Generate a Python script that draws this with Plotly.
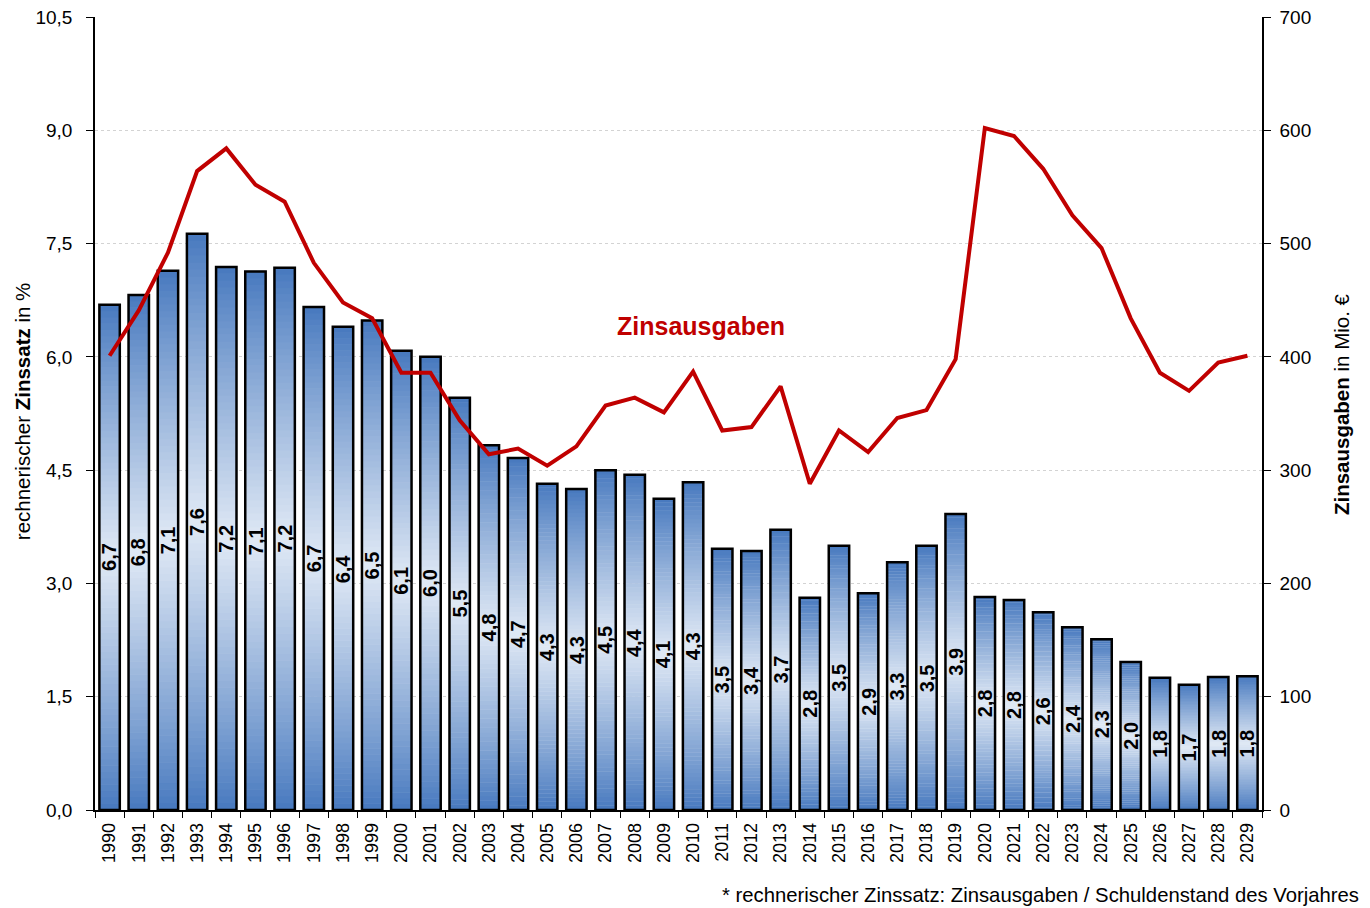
import plotly.graph_objects as go

years = [str(y) for y in range(1990, 2030)]
zinssatz = [6.69, 6.82, 7.14, 7.63, 7.19, 7.13, 7.18, 6.66, 6.40, 6.48,
            6.08, 6.00, 5.46, 4.83, 4.66, 4.32, 4.25, 4.50, 4.44, 4.12,
            4.34, 3.46, 3.43, 3.71, 2.81, 3.50, 2.87, 3.28, 3.50, 3.92,
            2.82, 2.78, 2.62, 2.42, 2.26, 1.96, 1.75, 1.66, 1.76, 1.77]
zins_labels = ["6,7", "6,8", "7,1", "7,6", "7,2", "7,1", "7,2", "6,7", "6,4", "6,5",
               "6,1", "6,0", "5,5", "4,8", "4,7", "4,3", "4,3", "4,5", "4,4", "4,1",
               "4,3", "3,5", "3,4", "3,7", "2,8", "3,5", "2,9", "3,3", "3,5", "3,9",
               "2,8", "2,8", "2,6", "2,4", "2,3", "2,0", "1,8", "1,7", "1,8", "1,8"]
zinsausgaben = [401, 441, 492, 564, 584, 552, 537, 483, 448, 434,
                386, 386, 344, 314, 319, 304, 321, 357, 364, 351,
                387, 335, 338, 374, 288, 335, 316, 346, 353, 398,
                602, 595, 566, 525, 496, 434, 386, 370, 395, 401]

FONT = "Liberation Sans, Arial, sans-serif"
BAR_W = 0.7
N = 80
blue = (70, 120, 190)
light = (224, 233, 245)

def grad(t):
    # t: 0 bottom .. 1 top ; lightest in the middle
    f = 1 - abs(t - 0.5) * 2
    f = max(0.0, min(1.0, f)) ** 0.9
    c = [round(b + (l - b) * f) for b, l in zip(blue, light)]
    return f"rgb({c[0]},{c[1]},{c[2]})"

fig = go.Figure()
for k in range(N):
    fig.add_trace(go.Bar(
        x=years,
        y=[v / N * 1.1 for v in zinssatz],
        base=[v * k / N for v in zinssatz],
        width=BAR_W,
        marker=dict(color=grad((k + 0.5) / N), line=dict(width=0)),
        hoverinfo="skip", showlegend=False,
    ))

fig.add_trace(go.Bar(
    x=years, y=zinssatz, base=0, width=BAR_W,
    marker=dict(color="rgba(0,0,0,0)", line=dict(color="black", width=2.5)),
    showlegend=False, name="Zinssatz",
))

fig.add_trace(go.Scatter(
    x=years, y=zinsausgaben, yaxis="y2", mode="lines",
    line=dict(color="rgb(192,0,0)", width=4),
    showlegend=False, name="Zinsausgaben",
))

annotations = []
for i, (v, lab) in enumerate(zip(zinssatz, zins_labels)):
    annotations.append(dict(
        x=i, y=v / 2, xref="x", yref="y", text=lab, textangle=-90,
        showarrow=False, font=dict(family=FONT, size=20, color="black", weight="bold"),
    ))

annotations += [
    dict(text="Zinsausgaben", xref="paper", yref="paper", x=0.5195, y=0.61,
         showarrow=False, font=dict(size=25, color="rgb(192,0,0)", weight="bold")),
    dict(text="* rechnerischer Zinssatz: Zinsausgaben / Schuldenstand des Vorjahres",
         xref="paper", yref="paper", x=1.085, y=-0.107, xanchor="right", yanchor="middle",
         showarrow=False, font=dict(size=20.3)),
    dict(text="rechnerischer <b>Zinssatz</b> in %", xref="paper", yref="paper",
         x=-0.0625, y=0.503, xanchor="center", yanchor="middle", textangle=-90,
         showarrow=False, font=dict(size=20.5)),
    dict(text="<b>Zinsausgaben</b> in Mio. €", xref="paper", yref="paper",
         x=1.0686, y=0.512, xanchor="center", yanchor="middle", textangle=-90,
         showarrow=False, font=dict(size=20.5)),
]

fig.update_layout(
    width=1362, height=900,
    margin=dict(l=87, r=108, t=9, b=98, autoexpand=False),
    paper_bgcolor="white", plot_bgcolor="white",
    barmode="overlay", separators=",.",
    font=dict(family=FONT, color="black"),
    xaxis=dict(
        type="category", tickangle=-90, tickfont=dict(size=18),
        showline=True, linecolor="black", linewidth=1.5,
        ticks="outside", ticklen=6, tickson="boundaries", tickcolor="black",
        ticklabelstandoff=4,
        showgrid=False, range=[-0.5, 39.5], automargin=False,
        ticklabeloverflow="allow",
    ),
    yaxis=dict(
        range=[0, 10.5], tickvals=[0, 1.5, 3, 4.5, 6, 7.5, 9, 10.5],
        tickformat=".1f", tickfont=dict(size=19),
        showline=True, linecolor="black", linewidth=1.5,
        ticks="outside", ticklen=7, tickcolor="black", ticklabelstandoff=10,
        showgrid=True, gridcolor="#d3d3d3", griddash="dot", gridwidth=1,
        zeroline=False, automargin=False, ticklabeloverflow="allow",
    ),
    yaxis2=dict(
        overlaying="y", side="right", range=[0, 700],
        tickvals=[0, 100, 200, 300, 400, 500, 600, 700], tickfont=dict(size=19),
        showline=True, linecolor="black", linewidth=1.5,
        ticks="outside", ticklen=7, tickcolor="black", ticklabelstandoff=5,
        showgrid=False, zeroline=False, automargin=False, ticklabeloverflow="allow",
    ),
    annotations=annotations,
)

fig.write_html("out.html")
